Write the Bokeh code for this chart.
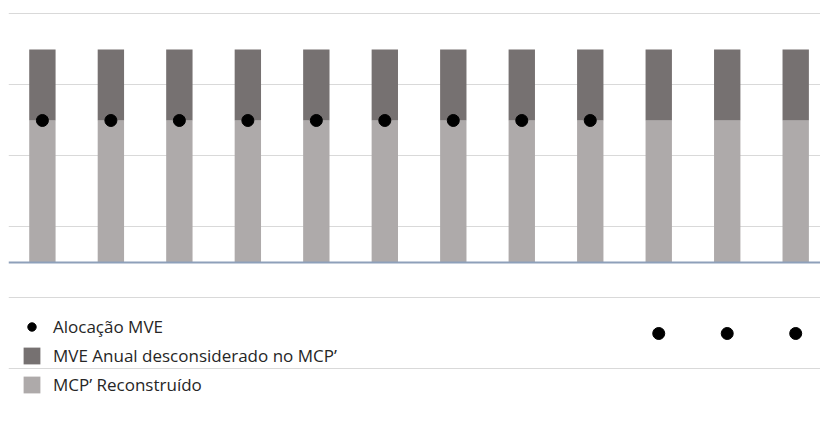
from bokeh.plotting import figure
from bokeh.models import ColumnDataSource, FixedTicker, Span, Legend, LegendItem, Range1d
from bokeh.embed import file_html
from bokeh.resources import INLINE

# Twelve periods, stacked: reconstructed MCP' plus the annual MVE not considered in it
periods = [str(i) for i in range(1, 13)]
mcp_reconstruido = [4, 4, 4, 4, 4, 4, 4, 4, 4, 4, 4, 4]
mve_desconsiderado = [2, 2, 2, 2, 2, 2, 2, 2, 2, 2, 2, 2]
alocacao_mve = [4, 4, 4, 4, 4, 4, 4, 4, 4, -2, -2, -2]
grid_ticks = [-3, -1, 1, 3, 5, 7]

xs = list(range(len(periods)))
src = ColumnDataSource(dict(
    x=xs,
    mcp=mcp_reconstruido,
    mve=mve_desconsiderado,
    aloc=alocacao_mve,
))

p = figure(
    width=820, height=432,
    x_range=Range1d(-0.495, 11.362),
    y_range=Range1d(-4.789, 7.380),
    output_backend="svg", toolbar_location=None,
    min_border_left=8, min_border_right=0, min_border_top=0, min_border_bottom=0,
)
p.outline_line_color = None
p.background_fill_color = "white"
p.border_fill_color = "white"
p.xaxis.visible = False
p.yaxis.visible = False
p.xgrid.grid_line_color = None
p.ygrid.ticker = FixedTicker(ticks=grid_ticks)
p.ygrid.grid_line_color = "#d9d9d9"
p.ygrid.grid_line_width = 1

light, dark = "#AEAAAA", "#767171"
bars = p.vbar_stack(["mcp", "mve"], x="x", width=0.385, source=src,
                    color=[light, dark], line_color=None)

p.add_layout(Span(location=0, dimension="width", line_color="#8EA0BA", line_width=2))

dots = p.scatter(x="x", y="aloc", source=src, size=12, color="black")

legend = Legend(
    items=[
        LegendItem(label="Alocação MVE", renderers=[dots]),
        LegendItem(label="MVE Anual desconsiderado no MCP’", renderers=[bars[1]]),
        LegendItem(label="MCP’ Reconstruído", renderers=[bars[0]]),
    ],
    location=(13, 36),
    orientation="vertical",
    glyph_width=21, glyph_height=21,
    spacing=6, padding=0, margin=0,
    label_standoff=11,
    label_text_font="Open Sans",
    label_text_font_size="17px",
    label_text_color="#262626",
    border_line_alpha=0,
    background_fill_alpha=0,
)
p.add_layout(legend)

open("out.html", "w").write(file_html(p, INLINE))
